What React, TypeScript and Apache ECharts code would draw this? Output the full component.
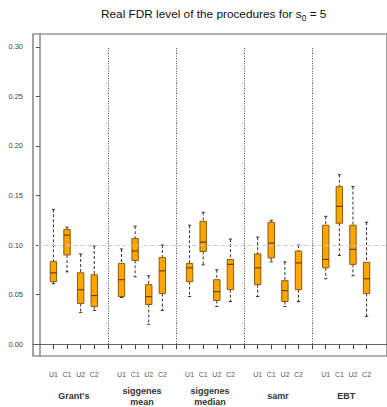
import React, { useEffect, useRef } from "react";
import * as echarts from "echarts";

const groupNames = ["Grant's", "siggenes\nmean", "siggenes\nmedian", "samr", "EBT"];
const boxNames = ["U1", "C1", "U2", "C2"];
const yTicks = [0, 0.05, 0.1, 0.15, 0.2, 0.25, 0.3];
const refLevel = 0.1;
const separators = [5, 10, 15, 20];

// [min, q1, median, q3, max] for U1, C1, U2, C2
const grants = [
  [0.061, 0.063, 0.072, 0.0835, 0.136],
  [0.073, 0.09, 0.11, 0.1157, 0.118],
  [0.032, 0.041, 0.055, 0.072, 0.091],
  [0.034, 0.038, 0.049, 0.07, 0.099],
];
const siggenesMean = [
  [0.047, 0.048, 0.065, 0.0815, 0.096],
  [0.068, 0.0845, 0.094, 0.1066, 0.119],
  [0.02, 0.04, 0.048, 0.06, 0.069],
  [0.034, 0.051, 0.074, 0.0875, 0.1],
];
const siggenesMedian = [
  [0.048, 0.063, 0.077, 0.0815, 0.12],
  [0.08, 0.0935, 0.103, 0.124, 0.133],
  [0.038, 0.044, 0.053, 0.065, 0.075],
  [0.043, 0.055, 0.0805, 0.0855, 0.106],
];
const samr = [
  [0.048, 0.06, 0.077, 0.091, 0.108],
  [0.083, 0.087, 0.102, 0.123, 0.125],
  [0.038, 0.043, 0.054, 0.064, 0.083],
  [0.043, 0.055, 0.082, 0.094, 0.1],
];
const ebt = [
  [0.066, 0.077, 0.0855, 0.12, 0.129],
  [0.0895, 0.122, 0.139, 0.159, 0.171],
  [0.069, 0.0805, 0.0956, 0.12, 0.159],
  [0.028, 0.051, 0.066, 0.0825, 0.123],
];

const allGroups = [grants, siggenesMean, siggenesMedian, samr, ebt];

export default function App() {
  const ref = useRef<HTMLDivElement>(null);
  useEffect(() => {
    if (!ref.current) return;
    const chart = echarts.init(ref.current, null, { renderer: "svg" });
    const boxData: number[][] = [];
    allGroups.forEach((g, gi) =>
      g.forEach((s, bi) => boxData.push([gi * 5 + bi + 1, ...s]))
    );
    const tickPositions: number[] = [];
    const labelPositions: number[] = [];
    for (let p = 1; p <= 24; p++) {
      tickPositions.push(p);
      if (p % 5 !== 0) labelPositions.push(p);
    }
    const groupCenters = groupNames.map((_, i) => i * 5 + 2.5);
    const font = "'Liberation Sans', Arial, sans-serif";

    chart.setOption({
      animation: false,
      title: {
        text: "Real FDR level of the procedures for s{sub|0} = 5",
        left: 101,
        top: 6,
        padding: 0,
        textStyle: {
          fontFamily: font,
          fontSize: 11.8,
          fontWeight: "normal",
          color: "#111",
          rich: {
            sub: { fontSize: 8.5, fontFamily: font, color: "#111", padding: [7, 0, 0, 0] },
          },
        },
      },
      grid: {
        left: 33,
        right: -3,
        top: 34,
        bottom: 50,
        show: true,
        borderColor: "#666",
        borderWidth: 1.2,
      },
      xAxis: [
        {
          type: "value",
          min: -0.5,
          max: 25.5,
          splitLine: { show: false },
          axisLine: { show: true, lineStyle: { color: "#666", width: 1.2 } },
          axisTick: {
            show: true,
            customValues: tickPositions,
            length: 5,
            lineStyle: { color: "#444" },
          },
          axisLabel: {
            customValues: labelPositions,
            formatter: (v: number) => boxNames[(Math.round(v) - 1) % 5] ?? "",
            fontSize: 7,
            fontFamily: font,
            color: "#555",
            margin: 15,
          },
        },
        {
          type: "value",
          min: -0.5,
          max: 25.5,
          position: "bottom",
          splitLine: { show: false },
          axisLine: { show: false },
          axisTick: { show: false },
          axisLabel: {
            customValues: groupCenters,
            formatter: (v: number) => groupNames[Math.round((v - 2.5) / 5)] ?? "",
            fontSize: 9,
            fontWeight: "bold",
            fontFamily: font,
            color: "#333",
            lineHeight: 11,
            verticalAlign: "middle",
            margin: 40,
          },
        },
      ],
      yAxis: {
        type: "value",
        min: -0.012,
        max: 0.313,
        splitLine: { show: false },
        axisLine: { show: true, lineStyle: { color: "#888", width: 1.5 } },
        axisTick: {
          show: true,
          customValues: yTicks,
          length: 4,
          lineStyle: { color: "#555" },
        },
        axisLabel: {
          customValues: yTicks,
          formatter: (v: number) => v.toFixed(2),
          fontSize: 7.5,
          fontFamily: font,
          color: "#444",
          margin: 10,
        },
      },
      series: [
        {
          type: "custom",
          xAxisIndex: 0,
          yAxisIndex: 0,
          encode: { x: 0, y: [1, 2, 3, 4, 5] },
          data: boxData,
          renderItem: (params: any, api: any) => {
            const x = api.value(0);
            const pMin = api.coord([x, api.value(1)]);
            const pQ1 = api.coord([x, api.value(2)]);
            const pMed = api.coord([x, api.value(3)]);
            const pQ3 = api.coord([x, api.value(4)]);
            const pMax = api.coord([x, api.value(5)]);
            const cx = pMin[0];
            const hw = 3.2;
            const cw = 1.6;
            const whisker = { stroke: "#333", lineWidth: 1, lineDash: [3, 2] };
            const cap = { stroke: "#333", lineWidth: 1 };
            return {
              type: "group",
              children: [
                { type: "line", shape: { x1: cx, y1: pMax[1], x2: cx, y2: pQ3[1] }, style: whisker },
                { type: "line", shape: { x1: cx, y1: pQ1[1], x2: cx, y2: pMin[1] }, style: whisker },
                { type: "line", shape: { x1: cx - cw, y1: pMax[1], x2: cx + cw, y2: pMax[1] }, style: cap },
                { type: "line", shape: { x1: cx - cw, y1: pMin[1], x2: cx + cw, y2: pMin[1] }, style: cap },
                {
                  type: "rect",
                  shape: { x: cx - hw, y: pQ3[1], width: hw * 2, height: pQ1[1] - pQ3[1] },
                  style: { fill: "#FFA500", stroke: "#8a5a10", lineWidth: 1 },
                },
                {
                  type: "line",
                  shape: { x1: cx - hw, y1: pMed[1], x2: cx + hw, y2: pMed[1] },
                  style: { stroke: "#6b3f00", lineWidth: 1.2 },
                },
              ],
            };
          },
          markLine: {
            silent: true,
            symbol: "none",
            label: { show: false },
            data: [
              [
                { coord: [-0.1, refLevel], lineStyle: { color: "#c8c8c8", type: [4, 3], width: 1 } },
                { coord: [25.5, refLevel] },
              ],
              ...separators.map((s) => [
                { coord: [s, yTicks[0]], lineStyle: { color: "#444", type: [1, 1.5], width: 1 } },
                { coord: [s, yTicks[yTicks.length - 1]] },
              ]),
            ],
          },
        },
      ],
    });
    return () => chart.dispose();
  }, []);
  return (
    <div
      ref={ref}
      style={{ position: "fixed", left: 0, top: 0, width: 387, height: 407, background: "#fff" }}
    />
  );
}
